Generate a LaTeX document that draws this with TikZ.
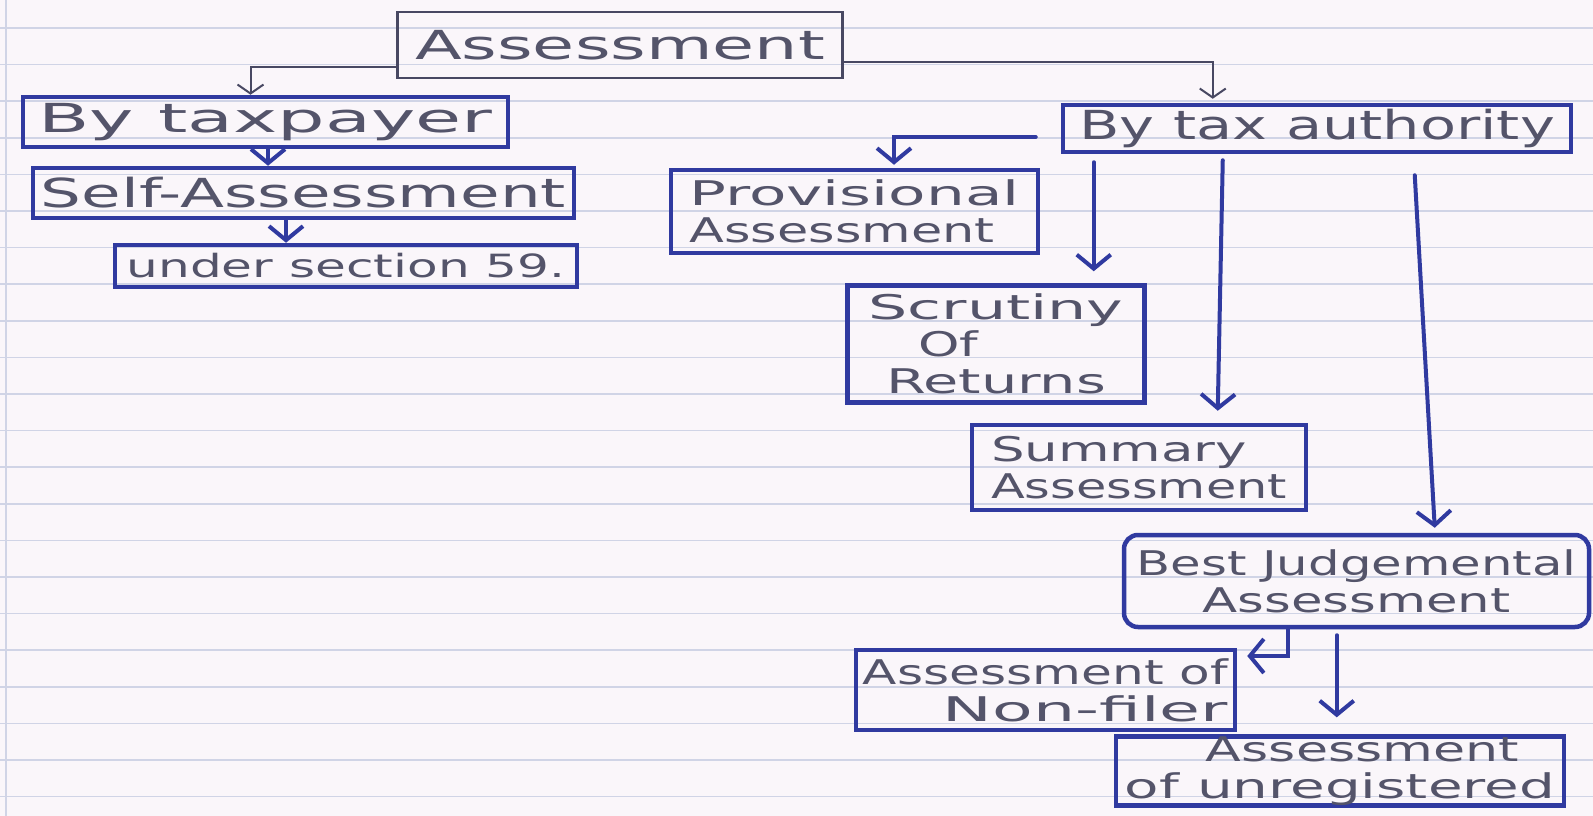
\documentclass[tikz,border=0pt]{standalone}
\usepackage{fontspec}
\setmainfont{DejaVu Sans}
\usetikzlibrary{arrows.meta,calc}
\definecolor{ink}{RGB}{48,58,160}
\definecolor{pencil}{RGB}{72,72,98}
\definecolor{txt}{RGB}{84,84,106}
\definecolor{paper}{RGB}{250,246,250}
\definecolor{ruleline}{RGB}{208,212,230}
\newcommand\hw[2]{\resizebox{#1pt}{\height}{#2}}
\begin{document}
\begin{tikzpicture}[x=1pt,y=-1pt,
  inkbox/.style={draw=ink,line width=4.5pt,inner sep=0pt,text=txt,
    font=\fontsize{34}{37}\selectfont},
  bigtext/.style={font=\fontsize{40}{40}\selectfont},
  pencilbox/.style={draw=pencil,line width=2.5pt,inner sep=0pt,text=txt,
    font=\fontsize{40}{40}\selectfont},
  arr/.style={draw=ink,line width=4pt,line cap=round,
    -{Straight Barb[length=14pt,width=34pt,line width=4pt]}},
  thinarr/.style={draw=pencil,line width=2pt,
    -{Straight Barb[length=9pt,width=26pt,line width=2pt]}}]
\useasboundingbox (0,0) rectangle (1593,816);
% paper
\fill[paper] (0,0) rectangle (1593,816);
\foreach \k in {0,...,21}
  \draw[ruleline,line width=1.5pt] (0,{28+36.6*\k}) -- (1593,{28+36.6*\k});
\draw[ruleline,line width=1.5pt] (6,0) -- (6,816);
% nodes
\node[pencilbox,minimum width=445pt,minimum height=66pt] (A) at (620,45) {\hw{410}{Assessment}};
\node[inkbox,bigtext,minimum width=485pt,minimum height=50pt] (tp) at (265.5,122) {\hw{454}{By taxpayer}};
\node[inkbox,bigtext,minimum width=541pt,minimum height=50pt] (sa) at (303.5,193) {\hw{525}{Self-Assessment}};
\node[inkbox,font=\fontsize{32}{32}\selectfont,minimum width=462pt,minimum height=42pt] (us) at (346,266) {\hw{439}{under section 59.}};
\node[inkbox,bigtext,minimum width=508pt,minimum height=47pt] (ta) at (1317,128.5) {\hw{476}{By tax authority}};
\node[inkbox,align=left,minimum width=367pt,minimum height=83pt] (pv) at (854.5,211.5) {\hw{330}{Provisional}\\\hw{305}{Assessment}};
\node[inkbox,align=center,minimum width=297pt,minimum height=117pt] (sc) at (996,344) {\hw{255}{Scrutiny}\\\makebox[156pt][l]{\hw{60}{Of}}\\\hw{220}{Returns}};
\node[inkbox,align=left,minimum width=334pt,minimum height=85pt] (sm) at (1139,467.5) {\hw{256}{Summary}\\\hw{296}{Assessment}};
\node[inkbox,align=center,rounded corners=14pt,minimum width=465pt,minimum height=92pt] (bj) at (1356.5,581) {\hw{440}{Best Judgemental}\\\hw{308}{Assessment}};
\node[inkbox,align=right,minimum width=379pt,minimum height=80pt] (nf) at (1045.5,690) {\hw{365}{Assessment of}\\\hw{285}{Non-filer}};
\node[inkbox,align=left,minimum width=448pt,minimum height=68pt] (ur) at (1340,771) {\hspace*{81pt}\hw{313}{Assessment}\\\hw{430}{of unregistered}};
% connectors
\draw[thinarr] ([yshift=-22pt]A.west) -| ([xshift=-15pt]tp.north);
\draw[thinarr] ([yshift=-17pt]A.east) -| ($(ta.north west)+(152,-4)$);
\draw[arr] ([xshift=2.5pt]tp.south) -- ([xshift=2.5pt]tp.south |- sa.north);
\draw[arr] ([xshift=-17.5pt]sa.south) -- ([xshift=-17.5pt]sa.south |- us.north);
\draw[arr] ($(ta.west)+(-25,8.5)$) -| ($(pv.north)+(39.5,-3)$);
\draw[arr] ($(ta.south west)+(33,8)$) -- ($(sc.north west)+(248.5,-12)$);
\draw[arr] ($(ta.south west)+(162,6)$) -- ($(sm.north west)+(248,-12)$);
\draw[arr] ($(ta.south west)+(354,21)$) -- ($(bj.north west)+(313,-5)$);
\draw[arr] ($(bj.south west)+(166,0)$) |- ($(nf.east)+(10,-34)$);
\draw[arr] ($(bj.south west)+(215,6)$) -- ($(ur.north west)+(223,-17)$);
\end{tikzpicture}
\end{document}
